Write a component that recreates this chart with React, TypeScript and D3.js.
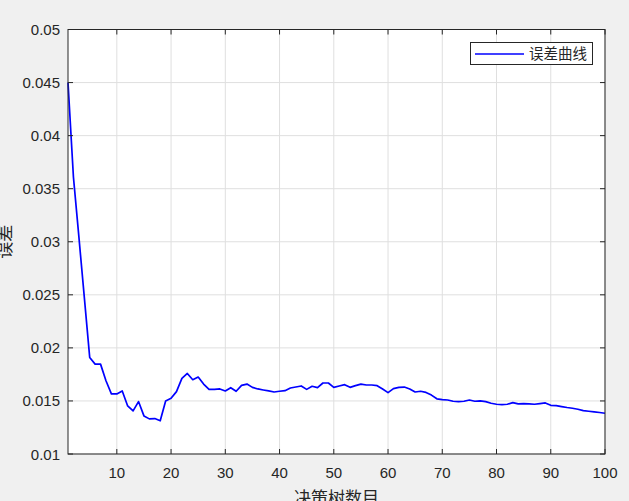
import React from "react";
import * as d3 from "d3";

const errorValues: number[] = [
  0.0450, 0.0361, 0.0305, 0.0248, 0.0191,
  0.01847, 0.01847, 0.0169, 0.01566, 0.01566, 0.01594, 0.01453, 0.01406, 0.01494, 0.01359,
  0.01331, 0.01334, 0.01313, 0.0150, 0.01525, 0.01588, 0.01713, 0.01759, 0.0170, 0.01725,
  0.01659, 0.01609, 0.01609, 0.01613, 0.01594, 0.01625, 0.01591, 0.01647, 0.01659, 0.01628, 0.01613,
  0.01603, 0.01594, 0.01584, 0.01591, 0.01597, 0.01622, 0.01631, 0.01641, 0.01609, 0.01638,
  0.01625, 0.01669, 0.01669, 0.01628, 0.01641, 0.01653, 0.01628, 0.01644, 0.01659, 0.0165,
  0.0165, 0.01644, 0.01613, 0.01578, 0.01616, 0.01628, 0.01631, 0.01613, 0.01584, 0.01591,
  0.0158, 0.01555, 0.0152,
  0.01513, 0.01509, 0.01497, 0.01494, 0.01497, 0.01509, 0.01497, 0.015, 0.01494, 0.01478,
  0.01469, 0.01466, 0.01469, 0.01484, 0.01472, 0.01475, 0.01472, 0.01469, 0.01475, 0.01481,
  0.01459, 0.01456, 0.01447, 0.01438, 0.01431, 0.01422, 0.01409, 0.01403, 0.01397, 0.01391, 0.01384,
];
const treeCounts: number[] = errorValues.map((_, i) => i + 1);
const xTicks: number[] = [10, 20, 30, 40, 50, 60, 70, 80, 90, 100];
const yTicks: number[] = [0.01, 0.015, 0.02, 0.025, 0.03, 0.035, 0.04, 0.045, 0.05];
const yTickLabels: string[] = ["0.01", "0.015", "0.02", "0.025", "0.03", "0.035", "0.04", "0.045", "0.05"];
const xLabel = "决策树数目";
const yLabel = "误差";
const legendLabel = "误差曲线";

const W = 629;
const H = 501;
const L = 68, R = 605, T = 29.5, B = 454;
const axisColor = "#262626";
const gridColor = "#dfdfdf";
const font = "'Liberation Sans', Arial, sans-serif";
const cjk = "'Noto Sans CJK SC', sans-serif";

export default function App() {
  const x = d3.scaleLinear().domain([1, 100]).range([L, R]);
  const y = d3.scaleLinear().domain([0.01, 0.05]).range([B, T]);
  const line = d3
    .line<number>()
    .x((_, i) => x(treeCounts[i]))
    .y((d) => y(d));
  const tk = 5;
  return (
    <svg
      width={W}
      height={H}
      style={{ position: "absolute", left: 0, top: 0, display: "block" }}
    >
      <rect x={0} y={0} width={W} height={H} fill="#f0f0f0" />
      <rect x={L} y={T} width={R - L} height={B - T} fill="#ffffff" />
      {xTicks.map((t) => (
        <line key={"gx" + t} x1={x(t)} x2={x(t)} y1={T} y2={B} stroke={gridColor} strokeWidth={1} />
      ))}
      {yTicks.map((t) => (
        <line key={"gy" + t} x1={L} x2={R} y1={y(t)} y2={y(t)} stroke={gridColor} strokeWidth={1} />
      ))}
      <path d={line(errorValues) || ""} fill="none" stroke="#0000ff" strokeWidth={1.7} strokeLinejoin="round" />
      <rect x={L} y={T} width={R - L} height={B - T} fill="none" stroke={axisColor} strokeWidth={1} />
      {xTicks.map((t) => (
        <g key={"tx" + t}>
          <line x1={x(t)} x2={x(t)} y1={B} y2={B - tk} stroke={axisColor} />
          <line x1={x(t)} x2={x(t)} y1={T} y2={T + tk} stroke={axisColor} />
          <text x={x(t)} y={478} textAnchor="middle" fontFamily={font} fontSize={15} fill={axisColor}>
            {t}
          </text>
        </g>
      ))}
      {yTicks.map((t, i) => (
        <g key={"ty" + t}>
          <line x1={L} x2={L + tk} y1={y(t)} y2={y(t)} stroke={axisColor} />
          <line x1={R} x2={R - tk} y1={y(t)} y2={y(t)} stroke={axisColor} />
          <text x={60} y={y(t) + 5.5} textAnchor="end" fontFamily={font} fontSize={15} fill={axisColor}>
            {yTickLabels[i]}
          </text>
        </g>
      ))}
      <text x={(L + R) / 2} y={504} textAnchor="middle" fontFamily={cjk} fontSize={17} fill={axisColor}>
        {xLabel}
      </text>
      <text
        transform={`translate(10.5, ${(T + B) / 2}) rotate(-90)`}
        textAnchor="middle"
        fontFamily={cjk}
        fontSize={17}
        fill={axisColor}
      >
        {yLabel}
      </text>
      <rect x={470.5} y={42.5} width={122} height={22} fill="#ffffff" stroke={axisColor} strokeWidth={1} />
      <line x1={475} x2={524} y1={54} y2={54} stroke="#0000ff" strokeWidth={1.7} />
      <text x={529} y={59} fontFamily={cjk} fontSize={14.5} fill={axisColor}>
        {legendLabel}
      </text>
    </svg>
  );
}
